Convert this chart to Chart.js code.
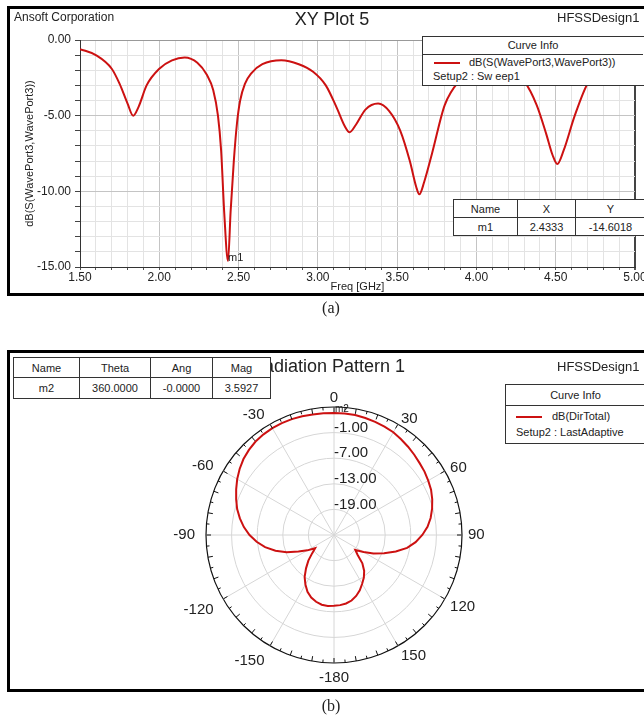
<!DOCTYPE html>
<html>
<head>
<meta charset="utf-8">
<script src="https://cdn.jsdelivr.net/npm/chart.js@4.4.1/dist/chart.umd.min.js"></script>
<style>
    html, body { margin: 0; padding: 0; background: #fff; }
    body {
        width: 644px; height: 718px; position: relative; overflow: hidden;
        font-family: "Liberation Sans", Arial, sans-serif; color: #222;
    }
    .panel { position: absolute; left: 7px; width: 700px; border: 3px solid #000; box-sizing: border-box; }
    #panelA { top: 6px; height: 290px; }
    #panelB { top: 350px; height: 342px; }
    .wrap { position: absolute; left: 0; width: 644px; }
    #wrapA { top: 0; height: 300px; }
    #wrapB { top: 340px; height: 360px; }
    .txt { position: absolute; white-space: nowrap; line-height: 1; }
    .box { position: absolute; background: #fff; border: 1px solid #333; font-size: 11px; box-sizing: border-box; }
    .box .hd { position: absolute; left: 0; right: 0; top: 0; text-align: center; border-bottom: 1px solid #333; }
    .box .ln { position: absolute; height: 2px; background: #cc1111; }
    table.mk { position: absolute; border-collapse: collapse; background: #fff; font-size: 11px; table-layout: fixed; }
    table.mk td { border: 1px solid #333; text-align: center; padding: 0; }
    .caption { position: absolute; font-family: "Liberation Serif", "Times New Roman", serif; font-size: 16px; transform: translateX(-50%); }
</style>
</head>
<body>

<!-- (a) S11 -->
<div class="panel" id="panelA"></div>
<div class="wrap" id="wrapA"><canvas id="s11Chart"></canvas></div>
<div class="txt" style="left:14px; top:11px; font-size:12px;">Ansoft Corporation</div>
<div class="txt" style="left:332px; top:10px; font-size:18px; transform:translateX(-50%);">XY Plot 5</div>
<div class="txt" style="left:557px; top:11px; font-size:13px;">HFSSDesign1</div>

<div class="box" style="left:422px; top:36px; width:224px; height:50px;">
    <div class="hd" style="height:17px; line-height:17px; width:220px;">Curve Info</div>
    <div class="ln" style="left:11px; top:25px; width:26px;"></div>
    <div class="txt" style="left:46px; top:20px;">dB(S(WavePort3,WavePort3))</div>
    <div class="txt" style="left:10px; top:34px;">Setup2 : Sw eep1</div>
</div>

<table class="mk" style="left:453px; top:199px; width:192px;">
    <colgroup><col style="width:64px"><col style="width:58px"><col style="width:70px"></colgroup>
    <tr style="height:18px"><td>Name</td><td>X</td><td>Y</td></tr>
    <tr style="height:18px"><td>m1</td><td>2.4333</td><td>-14.6018</td></tr>
</table>

<div class="caption" style="left:331px; top:299px;">(a)</div>

<!-- (b) radiation pattern -->
<div class="panel" id="panelB"></div>
<div class="wrap" id="wrapB"><canvas id="patternChart"></canvas></div>
<div class="txt" style="left:251px; top:357px; font-size:18px;">Radiation Pattern 1</div>
<div class="txt" style="left:557px; top:360px; font-size:13px;">HFSSDesign1</div>

<table class="mk" style="left:13px; top:357px; width:258px;">
    <colgroup><col style="width:66px"><col style="width:71px"><col style="width:62px"><col style="width:58px"></colgroup>
    <tr style="height:20px"><td>Name</td><td>Theta</td><td>Ang</td><td>Mag</td></tr>
    <tr style="height:21px"><td>m2</td><td>360.0000</td><td>-0.0000</td><td>3.5927</td></tr>
</table>

<div class="box" style="left:505px; top:384px; width:141px; height:60px;">
    <div class="hd" style="height:20px; line-height:20px; width:139px;">Curve Info</div>
    <div class="ln" style="left:10px; top:31px; width:26px;"></div>
    <div class="txt" style="left:46px; top:26px;">dB(DirTotal)</div>
    <div class="txt" style="left:10px; top:42px;">Setup2 : LastAdaptive</div>
</div>

<div class="caption" style="left:331px; top:697px;">(b)</div>

<script>
/* =========================================
   DATOS
   ========================================= */
// (a) dB(S(WavePort3,WavePort3)) frente a frecuencia
const freqGHz = [1.50, 1.60, 1.70, 1.75, 1.80, 1.835, 1.87, 1.92, 2.00, 2.08,
                 2.16, 2.24, 2.30, 2.34, 2.37, 2.39, 2.41, 2.4333, 2.45, 2.47,
                 2.49, 2.51, 2.54, 2.58, 2.65, 2.77, 2.88, 2.97, 3.05, 3.12,
                 3.17, 3.20, 3.24, 3.30, 3.38, 3.45, 3.52, 3.58, 3.62, 3.64,
                 3.67, 3.72, 3.80, 3.90, 4.00, 4.10, 4.20, 4.30, 4.38, 4.44,
                 4.48, 4.51, 4.55, 4.62, 4.70, 4.80, 4.90, 5.00];
const s11dB = [-0.6, -1.0, -1.9, -2.9, -4.2, -5.0, -4.4, -3.0, -1.9, -1.35,
               -1.15, -1.5, -2.3, -3.3, -5.0, -7.3, -11.5, -14.6, -11.3, -8.0,
               -5.5, -4.0, -2.9, -2.2, -1.6, -1.33, -1.6, -2.1, -3.0, -4.5,
               -5.7, -6.1, -5.6, -4.6, -4.2, -4.7, -6.0, -8.0, -9.7, -10.2,
               -9.4, -7.5, -4.3, -2.6, -1.8, -1.6, -1.9, -2.7, -4.3, -6.2,
               -7.6, -8.2, -7.3, -5.0, -2.9, -1.9, -1.4, -1.0];
const m1 = { x: 2.4333, y: -14.6018 };

// (b) dB(DirTotal) frente a theta (grados, sentido horario desde arriba)
const thetaDeg = [0, 5, 10, 15, 20, 25, 30, 35, 40, 45,
                  50, 55, 60, 65, 70, 75, 80, 85, 90, 95,
                  100, 105, 110, 115, 120, 125, 130, 135, 140, 145,
                  150, 155, 160, 165, 170, 175,
                  -180, -175, -170, -165, -160, -155, -150, -145, -140, -135,
                  -130, -125, -120, -115, -110, -105, -100, -95, -90, -85,
                  -80, -75, -70, -65, -60, -55, -50, -45, -40, -35,
                  -30, -25, -20, -15, -10, -5];
const dirTotalDB = [3.59, 3.6, 3.55, 3.4, 3.2, 3.0, 2.8, 2.4, 2.0, 1.6,
                    1.2, 0.9, 0.5, 0.1, -0.5, -1.2, -2.0, -3.0, -4.3, -5.8,
                    -7.6, -10.0, -12.5, -14.8, -17.0, -18.9, -17.8, -15.6, -14.0, -12.8,
                    -11.8, -10.7, -9.8, -9.1, -8.7, -8.5,
                    -8.4, -8.3, -8.4, -8.8, -9.4, -10.3, -11.6, -13.0, -14.8, -16.5,
                    -18.3, -19.6, -17.8, -15.8, -13.2, -10.8, -8.6, -6.8, -5.2, -3.8,
                    -2.6, -1.5, -0.6, 0.3, 1.2, 2.0, 2.7, 3.2, 3.6, 3.8,
                    3.9, 3.95, 3.9, 3.8, 3.7, 3.65];
const ringMin = -25, ringMax = 5, ringStep = 6;
const ringLabels = [-19, -13, -7, -1];
const angleLabelsShown = [0, 30, 60, 90, 120, 150, -180, -150, -120, -90, -60, -30];
const m2 = { theta: 0, mag: 3.5927 };

const RED = '#cc1111';
const FONT = '"Liberation Sans", Arial, sans-serif';
Chart.defaults.font.family = FONT;
Chart.defaults.color = '#222';

const isMult = (v, step) => Math.abs(v / step - Math.round(v / step)) < 1e-6;

/* =========================================
   1. GRÁFICO XY (S11)
   ========================================= */
const m1Label = {
    id: 'm1Label',
    afterDatasetsDraw(chart) {
        const { ctx, scales: { x, y } } = chart;
        const px = x.getPixelForValue(m1.x);
        const py = y.getPixelForValue(m1.y);
        ctx.save();
        ctx.font = '11px ' + FONT;
        ctx.fillStyle = '#222';
        ctx.textAlign = 'left';
        ctx.textBaseline = 'bottom';
        ctx.fillText('m1', px, py + 2);
        ctx.restore();
    }
};

new Chart(document.getElementById('s11Chart'), {
    type: 'line',
    data: {
        datasets: [{
            data: freqGHz.map((f, i) => ({ x: f, y: s11dB[i] })),
            borderColor: RED,
            borderWidth: 2,
            pointRadius: 0,
            cubicInterpolationMode: 'monotone'
        }]
    },
    options: {
        responsive: true,
        maintainAspectRatio: false,
        animation: false,
        layout: { padding: { left: 10, right: 9, top: 40, bottom: 6 } },
        plugins: { legend: { display: false }, tooltip: { enabled: false } },
        scales: {
            x: {
                type: 'linear', min: 1.5, max: 5.0,
                afterFit: (s) => { s.height = 27; s.paddingLeft = 0; s.paddingRight = 0; },
                ticks: {
                    stepSize: 0.1, autoSkip: false, maxRotation: 0, padding: 0,
                    font: { size: 12 },
                    callback: (v) => isMult(v, 0.5) ? v.toFixed(2) : ''
                },
                grid: {
                    tickLength: 3, tickColor: '#555',
                    color: (c) => {
                        const v = c.tick ? c.tick.value : 0;
                        if (Math.abs(v - 5) < 1e-6) return '#444';
                        return isMult(v, 0.5) ? '#c4c4c4' : '#e3e3e3';
                    },
                    lineWidth: (c) => (c.tick && Math.abs(c.tick.value - 5) < 1e-6) ? 2 : 1
                },
                border: { color: '#333', width: 1 },
                title: { display: true, text: 'Freq [GHz]', font: { size: 11 }, padding: { top: 0, bottom: 0 } }
            },
            y: {
                min: -15, max: 0,
                afterFit: (s) => { s.width = 70; },
                ticks: {
                    stepSize: 1, autoSkip: false, padding: 4,
                    font: { size: 12 },
                    callback: (v) => isMult(v, 5) ? v.toFixed(2) : ''
                },
                grid: {
                    tickLength: 5, tickColor: '#444',
                    color: (c) => {
                        const v = c.tick ? c.tick.value : 0;
                        if (v === 0) return '#999';
                        return isMult(v, 5) ? '#c4c4c4' : '#e3e3e3';
                    }
                },
                border: { color: '#333', width: 1 },
                title: { display: true, text: 'dB(S(WavePort3,WavePort3))', font: { size: 11 }, padding: { top: 13, bottom: 0 } }
            }
        }
    },
    plugins: [m1Label]
});

/* =========================================
   2. DIAGRAMA DE RADIACIÓN (polar)
   ========================================= */
const polarDecor = {
    id: 'polarDecor',
    afterDatasetsDraw(chart) {
        const r = chart.scales.r;
        const ctx = chart.ctx;
        const outer = r.getDistanceFromCenterForValue(ringMax);
        ctx.save();

        // marcas del anillo exterior
        ctx.strokeStyle = '#111';
        ctx.lineWidth = 1;
        thetaDeg.forEach((t, i) => {
            const len = (t % 10 === 0) ? 5 : 3;
            const p1 = r.getPointPosition(i, outer);
            const p2 = r.getPointPosition(i, outer - len);
            ctx.beginPath();
            ctx.moveTo(p1.x, p1.y);
            ctx.lineTo(p2.x, p2.y);
            ctx.stroke();
        });

        // etiquetas de los anillos
        ctx.font = '15px ' + FONT;
        ctx.fillStyle = '#222';
        ctx.textAlign = 'left';
        ctx.textBaseline = 'middle';
        ringLabels.forEach(v => {
            const d = r.getDistanceFromCenterForValue(v);
            ctx.fillText(v.toFixed(2), r.xCenter, r.yCenter - d - 5);
        });

        // etiquetas de ángulo
        angleLabelsShown.forEach(t => {
            const i = thetaDeg.indexOf(t);
            const a = i * 5;
            let dist = outer + (t < 0 ? 11 : 6);
            let dy = 0;
            let align = 'left';
            if (a === 0) { align = 'center'; dist = outer + 9; }
            else if (a === 180) { align = 'center'; dist = outer + 10; }
            else if (a > 180) { align = 'right'; }
            if (a > 90 && a < 270) dy = 5;
            const p = r.getPointPosition(i, dist);
            ctx.textAlign = align;
            ctx.fillText(String(t), p.x, p.y + dy);
        });

        // marcador m2
        const pm = r.getPointPosition(thetaDeg.indexOf(m2.theta), r.getDistanceFromCenterForValue(m2.mag));
        ctx.font = '10px ' + FONT;
        ctx.textAlign = 'left';
        ctx.textBaseline = 'bottom';
        ctx.fillText('m2', pm.x + 1, pm.y + 1);
        ctx.restore();
    }
};

new Chart(document.getElementById('patternChart'), {
    type: 'radar',
    data: {
        labels: thetaDeg.map(String),
        datasets: [{
            data: dirTotalDB,
            borderColor: RED,
            borderWidth: 2,
            pointRadius: 0,
            fill: false,
            tension: 0
        }]
    },
    options: {
        responsive: true,
        maintainAspectRatio: false,
        animation: false,
        layout: { padding: { left: 206, right: 182, top: 67, bottom: 37 } },
        plugins: { legend: { display: false }, tooltip: { enabled: false } },
        scales: {
            r: {
                min: ringMin, max: ringMax,
                ticks: { stepSize: ringStep, display: false },
                pointLabels: { display: false },
                grid: {
                    circular: true,
                    color: (c) => (c.tick && c.tick.value === ringMax) ? '#111' : '#d6d6d6',
                    lineWidth: (c) => (c.tick && c.tick.value === ringMax) ? 1.2 : 1
                },
                angleLines: {
                    color: (c) => (c.index % 6 === 0) ? '#d6d6d6' : 'rgba(0,0,0,0)'
                }
            }
        }
    },
    plugins: [polarDecor]
});
</script>
</body>
</html>
